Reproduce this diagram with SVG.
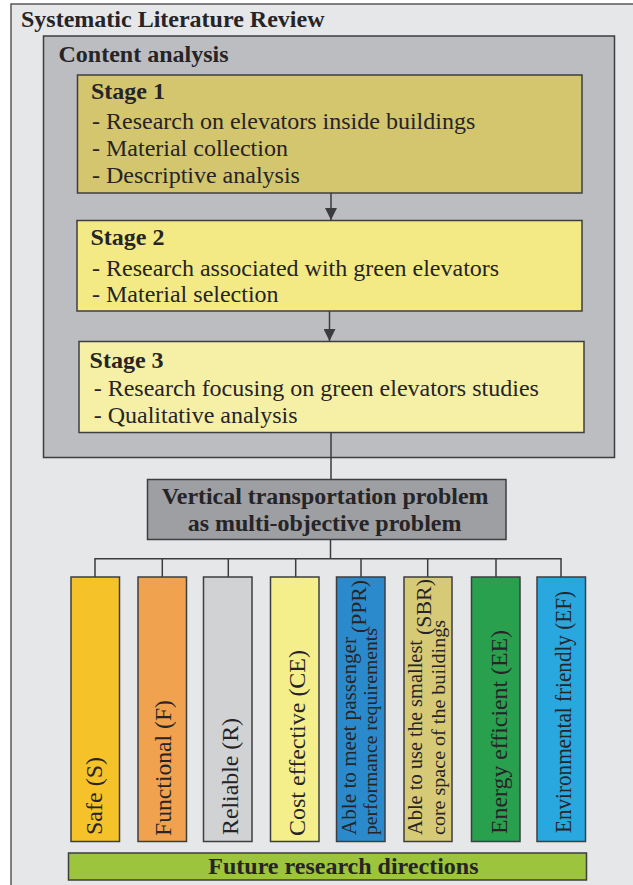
<svg xmlns="http://www.w3.org/2000/svg" width="633" height="885" viewBox="0 0 633 885">
<defs>
<marker id="arr" markerUnits="userSpaceOnUse" markerWidth="12" markerHeight="12" viewBox="0 0 12 12" refX="12" refY="6" orient="auto">
<path d="M0,0 L12,6 L0,12 z" fill="#3c3c3e"/>
</marker>
<style>
text{font-family:"Liberation Serif",serif;fill:#262426;}
.b{font-weight:bold;}
.h{font-size:24px;font-weight:bold;}
.t{font-size:24px;}
.v{font-size:23.5px;}
.v2{font-size:20px;}
.box{stroke:#3e3e40;stroke-width:1.5;}
.con{stroke:#3c3c3e;stroke-width:1.5;fill:none;}
</style>
</defs>
<rect x="0" y="0" width="633" height="885" fill="#ffffff"/>
<g id="slr">
<rect x="11" y="4" width="640" height="900" fill="#e6e7e9" stroke="#5a5a5c" stroke-width="1.5"/>
<text class="h" x="21" y="27">Systematic Literature Review</text>
</g>
<g id="content">
<rect class="box" x="43.5" y="36" width="571" height="421.5" fill="#bcbdc1"/>
<text class="h" x="58.5" y="61.5">Content analysis</text>
</g>
<g id="stage1">
<rect class="box" x="77.5" y="75" width="504.5" height="118" fill="#d3c66e"/>
<text class="h" x="91" y="99">Stage 1</text>
<text class="t" x="92" y="128.5">- Research on elevators inside buildings</text>
<text class="t" x="92" y="156">- Material collection</text>
<text class="t" x="92" y="182.5">- Descriptive analysis</text>
</g>
<g id="stage2">
<rect class="box" x="77" y="220.5" width="505" height="90.5" fill="#f3ea86"/>
<text class="h" x="90.5" y="245">Stage 2</text>
<text class="t" x="92" y="275.5">- Research associated with green elevators</text>
<text class="t" x="92" y="301.5">- Material selection</text>
</g>
<g id="stage3">
<rect class="box" x="79" y="341.5" width="505" height="91" fill="#f6f0a6"/>
<text class="h" x="89.6" y="368">Stage 3</text>
<text class="t" x="93.7" y="396">- Research focusing on green elevators studies</text>
<text class="t" x="93.7" y="422.5">- Qualitative analysis</text>
</g>
<g id="vtp">
<rect class="box" x="147.5" y="479.5" width="358.5" height="60" fill="#9d9fa3"/>
<text class="b" style="font-size:23px" x="161.7" y="504.3" textLength="326.8" lengthAdjust="spacingAndGlyphs">Vertical transportation problem</text>
<text class="b" style="font-size:23px" x="187.7" y="530.7" textLength="273.7" lengthAdjust="spacingAndGlyphs">as multi-objective problem</text>
</g>
<g id="connectors">
<line class="con" x1="331" y1="193" x2="331" y2="220" marker-end="url(#arr)"/>
<line class="con" x1="329.5" y1="311" x2="329.5" y2="341" marker-end="url(#arr)"/>
<line class="con" x1="331" y1="432.5" x2="331" y2="479.5"/>
<line class="con" x1="330.5" y1="539.5" x2="330.5" y2="558.7"/>
<polyline class="con" points="95,577 95,558.7 561,558.7 561,577"/>
<line class="con" x1="162.3" y1="558.7" x2="162.3" y2="577"/>
<line class="con" x1="228.3" y1="558.7" x2="228.3" y2="577"/>
<line class="con" x1="295.7" y1="558.7" x2="295.7" y2="577"/>
<line class="con" x1="361" y1="558.7" x2="361" y2="577"/>
<line class="con" x1="427.7" y1="558.7" x2="427.7" y2="577"/>
<line class="con" x1="496" y1="558.7" x2="496" y2="577"/>
</g>
<g id="safe">
<rect class="box" x="71" y="577" width="48.5" height="264.5" fill="#f5c329"/>
<text class="v" transform="translate(102 835) rotate(-90)" textLength="78" lengthAdjust="spacingAndGlyphs">Safe (S)</text>
</g>
<g id="functional">
<rect class="box" x="138" y="577" width="48.5" height="264.5" fill="#f0a24f"/>
<text class="v" transform="translate(170.5 836) rotate(-90)" textLength="136" lengthAdjust="spacingAndGlyphs">Functional (F)</text>
</g>
<g id="reliable">
<rect class="box" x="203.5" y="577" width="48.5" height="264.5" fill="#d1d2d4"/>
<text class="v" transform="translate(237.5 835) rotate(-90)" textLength="117" lengthAdjust="spacingAndGlyphs">Reliable (R)</text>
</g>
<g id="cost">
<rect class="box" x="270.5" y="577" width="48.5" height="264.5" fill="#f4ee8b"/>
<text class="v" transform="translate(304.5 836) rotate(-90)" textLength="186" lengthAdjust="spacingAndGlyphs">Cost effective (CE)</text>
</g>
<g id="ppr">
<rect class="box" x="336.5" y="577" width="48.5" height="264.5" fill="#2b8acb"/>
<text class="v2" transform="translate(355.5 835) rotate(-90)" textLength="198" lengthAdjust="spacingAndGlyphs">Able to meet passenger</text>
<text class="v2" style="font-size:19px" transform="translate(377 835) rotate(-90)" textLength="207" lengthAdjust="spacingAndGlyphs">performance requirements</text>
<text class="v2" style="font-size:21px" transform="translate(366 633) rotate(-90)" textLength="53" lengthAdjust="spacingAndGlyphs">(PPR)</text>
</g>
<g id="sbr">
<rect class="box" x="404" y="577" width="48" height="264.5" fill="#d7ca76"/>
<text class="v2" transform="translate(422 835) rotate(-90)" textLength="195" lengthAdjust="spacingAndGlyphs">Able to use the smallest</text>
<text class="v2" style="font-size:19px" transform="translate(444.5 835) rotate(-90)" textLength="215" lengthAdjust="spacingAndGlyphs">core space of the buildings</text>
<text class="v2" style="font-size:21px" transform="translate(430.5 635) rotate(-90)" textLength="56" lengthAdjust="spacingAndGlyphs">(SBR)</text>
</g>
<g id="energy">
<rect class="box" x="471.5" y="577" width="48.5" height="264.5" fill="#28a04e"/>
<text class="v" transform="translate(507 834) rotate(-90)" textLength="204" lengthAdjust="spacingAndGlyphs">Energy efficient (EE)</text>
</g>
<g id="env">
<rect class="box" x="537" y="577" width="48.5" height="264.5" fill="#29a7df"/>
<text class="v" transform="translate(571 833) rotate(-90)" textLength="242" lengthAdjust="spacingAndGlyphs">Environmental friendly (EF)</text>
</g>
<g id="future">
<rect class="box" x="68.5" y="853" width="518" height="27" fill="#9cc43c"/>
<text class="h" x="208.3" y="873.5">Future research directions</text>
</g>
</svg>
